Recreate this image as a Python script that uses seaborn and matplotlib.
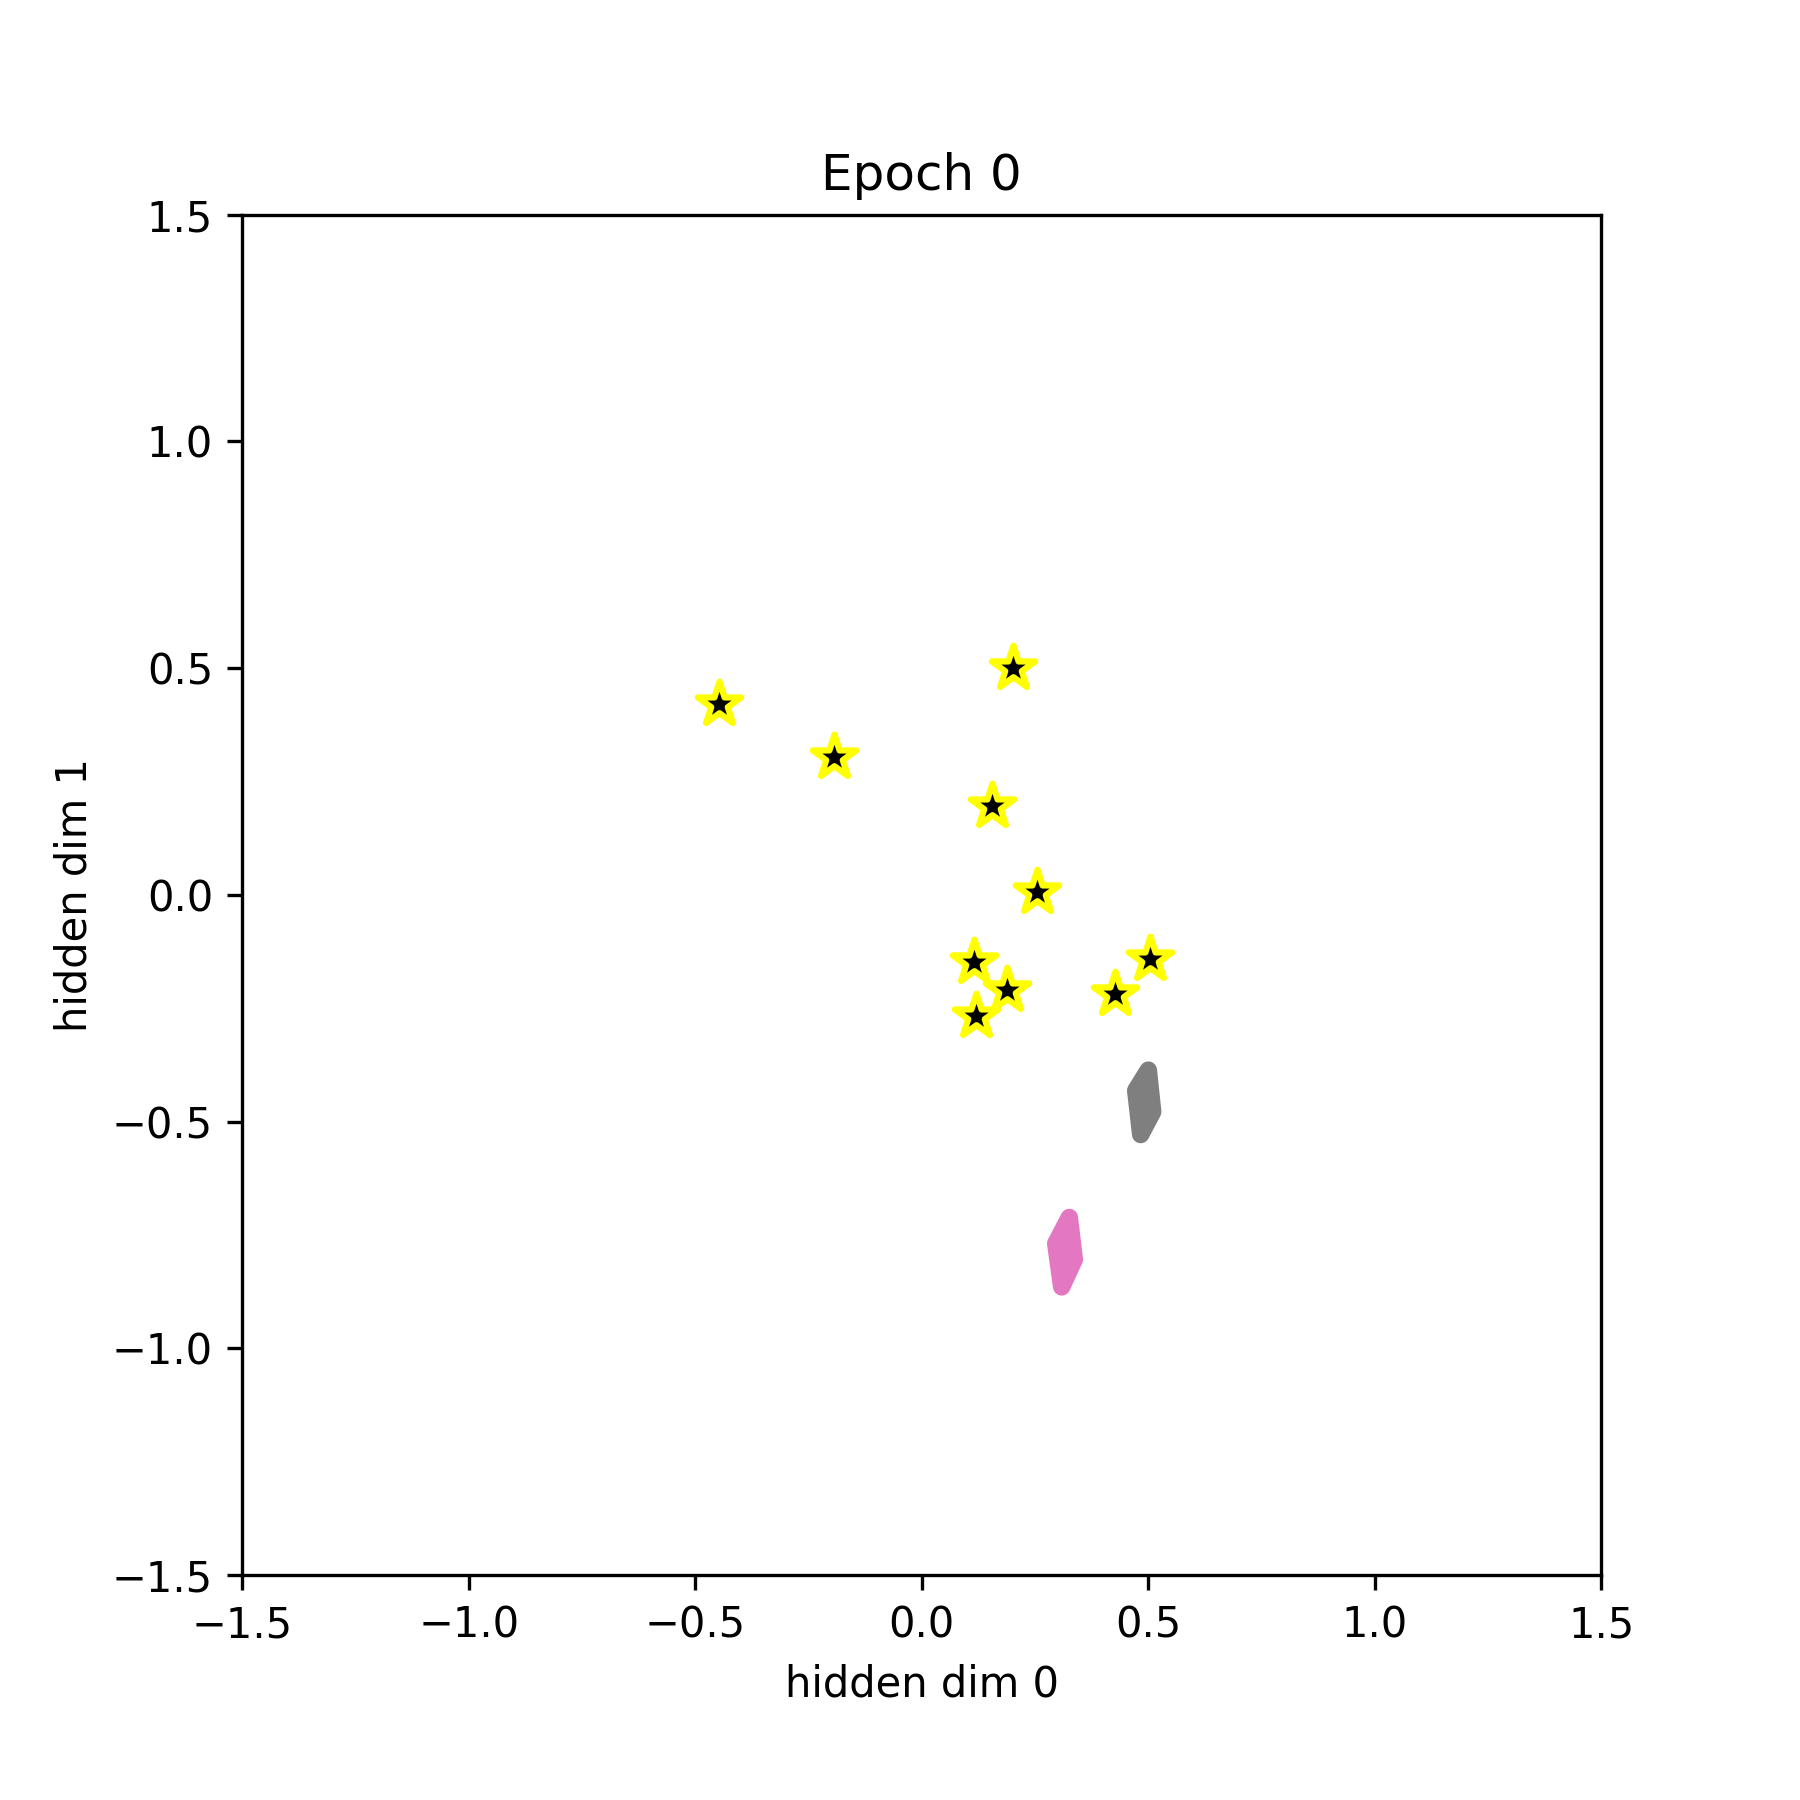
import matplotlib
matplotlib.use("Agg")
import matplotlib.pyplot as plt
import seaborn as sns
import pandas as pd

# Embedding points (stars)
star_x = [-0.447, -0.194, 0.202, 0.155, 0.255, 0.114, 0.189, 0.120, 0.426, 0.504]
star_y = [0.420, 0.305, 0.500, 0.197, 0.006, -0.147, -0.210, -0.266, -0.219, -0.141]

# Dense point clouds, outlined by their hull vertices
gray_x = [0.4998, 0.5095, 0.4830, 0.4720]
gray_y = [-0.3863, -0.4782, -0.5283, -0.4311]
pink_x = [0.3254, 0.3365, 0.3086, 0.2954]
pink_y = [-0.7112, -0.8039, -0.8643, -0.7686]

ticks = [-1.5, -1.0, -0.5, 0.0, 0.5, 1.0, 1.5]

fig = plt.figure(figsize=(6, 6), dpi=300)
ax = fig.add_axes([0.1346, 0.1249, 0.7551, 0.7558])

for xs, ys, c in [(gray_x, gray_y, "#7f7f7f"), (pink_x, pink_y, "#e377c2")]:
    ax.fill(xs, ys, facecolor=c, edgecolor=c, linewidth=4.2, joinstyle="round", zorder=2)

df = pd.DataFrame({"x": star_x, "y": star_y})
sns.scatterplot(data=df, x="x", y="y", marker="*", s=120, color="black",
                edgecolor="yellow", linewidth=1.5, ax=ax, zorder=3)

ax.set_xlim(-1.5, 1.5)
ax.set_ylim(-1.5, 1.5)
ax.set_xticks(ticks)
ax.set_yticks(ticks)
ax.set_xlabel("hidden dim 0")
ax.set_ylabel("hidden dim 1")
ax.set_title("Epoch 0")

fig.savefig("out.png", dpi=300)
